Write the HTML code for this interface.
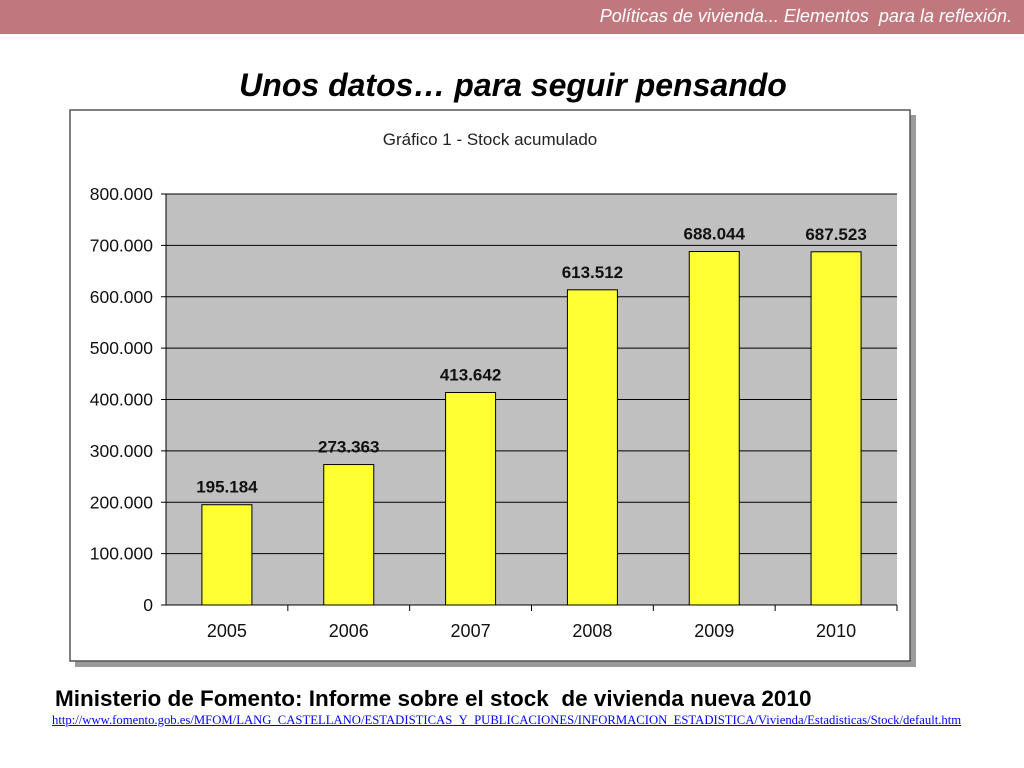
<!DOCTYPE html>
<html><head><meta charset="utf-8"><style>
body{margin:0;width:1024px;height:768px;background:#fff;position:relative;overflow:hidden;font-family:"Liberation Sans",sans-serif}
.hdr{position:absolute;left:0;top:0;width:1024px;height:34px;background:#c0777d}
.hdr span{position:absolute;right:12px;top:6px;color:#fff;font-style:italic;font-size:18px}
.title{position:absolute;left:0;width:1026px;top:67px;text-align:center;font-weight:bold;font-style:italic;font-size:32px;color:#000}
.src{position:absolute;left:55px;top:686px;font-weight:bold;font-size:22.5px;white-space:nowrap}
.link{position:absolute;left:52px;top:713px;font-family:"Liberation Serif",serif;font-size:12.7px;color:#00f;text-decoration:underline;white-space:nowrap}
</style></head><body>
<div class="hdr"><span>Políticas de vivienda... Elementos&nbsp; para la reflexión.</span></div>
<div class="title">Unos datos… para seguir pensando</div>
<svg id="chart" width="1024" height="768" style="position:absolute;left:0;top:0">
<rect x="75" y="115" width="841" height="552" fill="#9a9a9a"/>
<rect x="70" y="110" width="840" height="551" fill="#fff" stroke="#555" stroke-width="1.5"/>
<text x="490" y="145" text-anchor="middle" font-size="17" fill="#222">Gráfico 1 - Stock acumulado</text>
<rect x="166" y="194" width="731" height="411" fill="#c0c0c0"/>
<g id="g"></g>
</svg>
<div class="src">Ministerio de Fomento: Informe sobre el stock&nbsp; de vivienda nueva 2010</div>
<a class="link">http://www.fomento.gob.es/MFOM/LANG_CASTELLANO/ESTADISTICAS_Y_PUBLICACIONES/INFORMACION_ESTADISTICA/Vivienda/Estadisticas/Stock/default.htm</a>
<script>
const categories=["2005","2006","2007","2008","2009","2010"];
const values=[195184,273363,413642,613512,688044,687523];
const valueLabels=["195.184","273.363","413.642","613.512","688.044","687.523"];
const yTicks=[0,100000,200000,300000,400000,500000,600000,700000,800000];
const yTickLabels=["0","100.000","200.000","300.000","400.000","500.000","600.000","700.000","800.000"];
const X0=166,X1=897,Y0=605,Y1=194,YMAX=800000;
const y=v=>Y0-(v/YMAX)*(Y0-Y1);
const bw=(X1-X0)/categories.length;
const g=document.getElementById('g');
const NS='http://www.w3.org/2000/svg';
function mk(t,a){const e=document.createElementNS(NS,t);for(const k in a)e.setAttribute(k,a[k]);g.appendChild(e);return e;}
yTicks.forEach((t,i)=>{
 const l=mk('line',{x1:X0,x2:X1,y1:y(t),y2:y(t),stroke:'#000','stroke-width':1});
 
 
 const tk=mk('line',{x1:X0-5,x2:X0,y1:y(t),y2:y(t),stroke:'#000'});
 
 
 const tx=mk('text',{x:X0-13,y:y(t)+6,'text-anchor':'end','font-size':17.5,fill:'#111'});
 tx.textContent=yTickLabels[i];
 
 
});
const ax=mk('line',{x1:X0,x2:X0,y1:Y1,y2:Y0,stroke:'#000'});


categories.forEach((c,i)=>{
 const cx=X0+bw*(i+0.5);
 const b=mk('rect',{x:cx-25,y:y(values[i]),width:50,height:Y0-y(values[i]),fill:'#ffff33',stroke:'#000','stroke-width':1});
 
 
 const v=mk('text',{x:cx,y:y(values[i])-12,'text-anchor':'middle','font-size':17,'font-weight':'bold',fill:'#111'});
 v.textContent=valueLabels[i];
 
 
 const tk=mk('line',{x1:X0+bw*(i+1),x2:X0+bw*(i+1),y1:Y0,y2:Y0+6,stroke:'#000'});
 
 
 const t=mk('text',{x:cx,y:Y0+32,'text-anchor':'middle','font-size':18,fill:'#111'});
 t.textContent=c;
 
 
});
const xa=mk('line',{x1:X0,x2:X1,y1:Y0,y2:Y0,stroke:'#000'});


</script>
</body></html>
